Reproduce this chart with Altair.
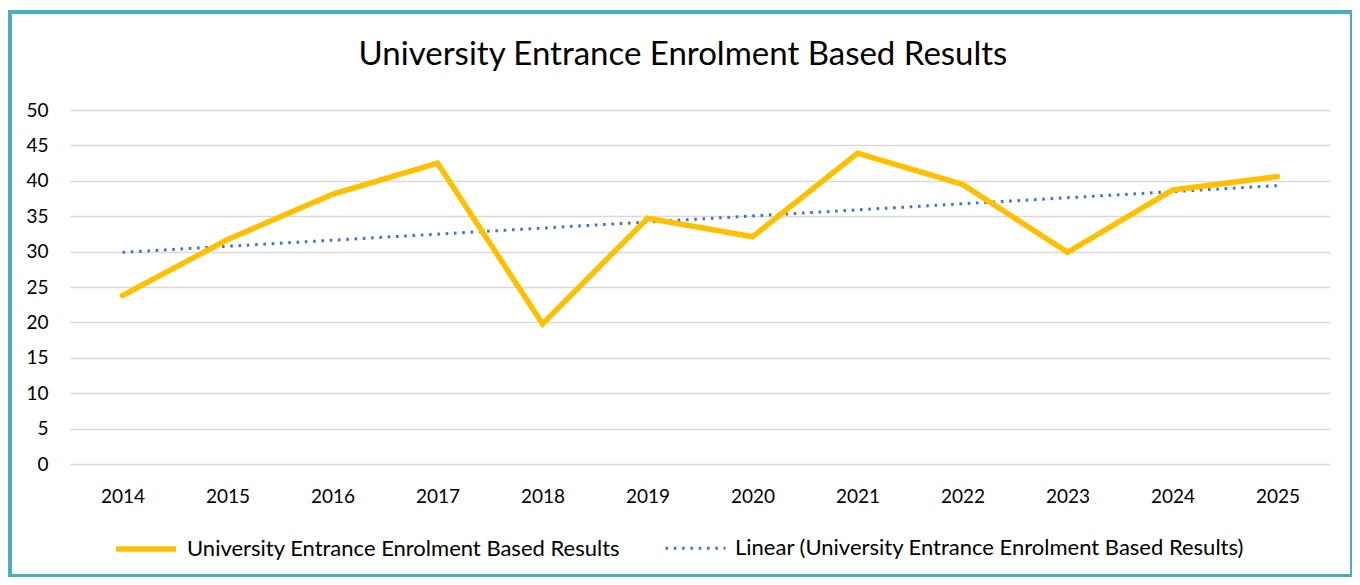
import altair as alt
import pandas as pd

years = [2014, 2015, 2016, 2017, 2018, 2019, 2020, 2021, 2022, 2023, 2024, 2025]
values = [23.8, 31.7, 38.1, 42.5, 19.8, 34.7, 32.1, 43.9, 39.5, 29.9, 38.7, 40.6]
y_ticks = [0, 5, 10, 15, 20, 25, 30, 35, 40, 45, 50]
series_main = "University Entrance Enrolment Based Results"
series_trend = "Linear (University Entrance Enrolment Based Results)"
title_text = "University Entrance Enrolment Based Results"

df = pd.DataFrame({"year": years, "value": values, "series": [series_main] * len(years)})

FONT = "Lato"
W, H = 1260, 354

x_enc = alt.X("year:O", title=None,
              scale=alt.Scale(type="point", padding=0.5),
              axis=alt.Axis(labelAngle=0, labelAlign="center", domain=False, ticks=False,
                            labelPadding=23, labelFontSize=19, labelColor="#000000",
                            labelFont=FONT, grid=False))
y_enc = alt.Y("value:Q", title=None,
              scale=alt.Scale(domain=[0, 50], nice=False),
              axis=alt.Axis(values=y_ticks, tickCount=len(y_ticks) + 1, labelOverlap=False,
                            domain=False, ticks=False,
                            labelPadding=22, labelFontSize=19, labelColor="#000000",
                            labelFont=FONT, gridColor="#D9D9D9", gridWidth=1.6))

color_scale = alt.Scale(domain=[series_main, series_trend], range=["#FFC000", "#4472C4"])
dash_scale = alt.Scale(domain=[series_main, series_trend], range=[[1, 0], [2.6, 5.7]])
width_scale = alt.Scale(domain=[series_main, series_trend], range=[5.5, 3])

legend = alt.Legend(title=None, orient="none", direction="horizontal",
                    legendX=43, legendY=406, symbolType="stroke", symbolSize=3600,
                    labelFontSize=22, labelFont=FONT, labelColor="#000000",
                    columnPadding=38, labelOffset=8, labelLimit=800)

enc_common = dict(
    x=x_enc, y=y_enc,
    color=alt.Color("series:N", scale=color_scale, legend=legend),
    strokeDash=alt.StrokeDash("series:N", scale=dash_scale, legend=legend),
    strokeWidth=alt.StrokeWidth("series:N", scale=width_scale, legend=legend),
)

main = alt.Chart(df).mark_line(strokeCap="round", strokeJoin="miter").encode(**enc_common)

trend = alt.Chart(df).transform_regression(
    "year", "value", method="linear"
).transform_calculate(
    series=f"'{series_trend}'"
).mark_line(strokeCap="butt").encode(**enc_common)

title = alt.Chart(pd.DataFrame({"t": [title_text]})).mark_text(
    font=FONT, fontSize=33, color="#000000", align="center", baseline="middle", clip=False
).encode(text="t:N", x=alt.value(613), y=alt.value(-55))

border = alt.Chart(pd.DataFrame({"b": [0]})).mark_rect(
    fill="transparent", stroke="#4BACC6", strokeWidth=4, clip=False
).encode(
    x=alt.value(-60), x2=alt.value(1282), y=alt.value(-98), y2=alt.value(466)
)

chart = alt.layer(trend, main, title, border).properties(
    width=W, height=H,
    autosize=alt.AutoSizeParams(type="none"),
    padding={"left": 62, "top": 102, "right": 22, "bottom": 113},
).configure(background="#FFFFFF").configure_view(stroke="transparent", strokeWidth=0)

chart.save("out.html", embed_options={"renderer": "svg", "actions": False})
